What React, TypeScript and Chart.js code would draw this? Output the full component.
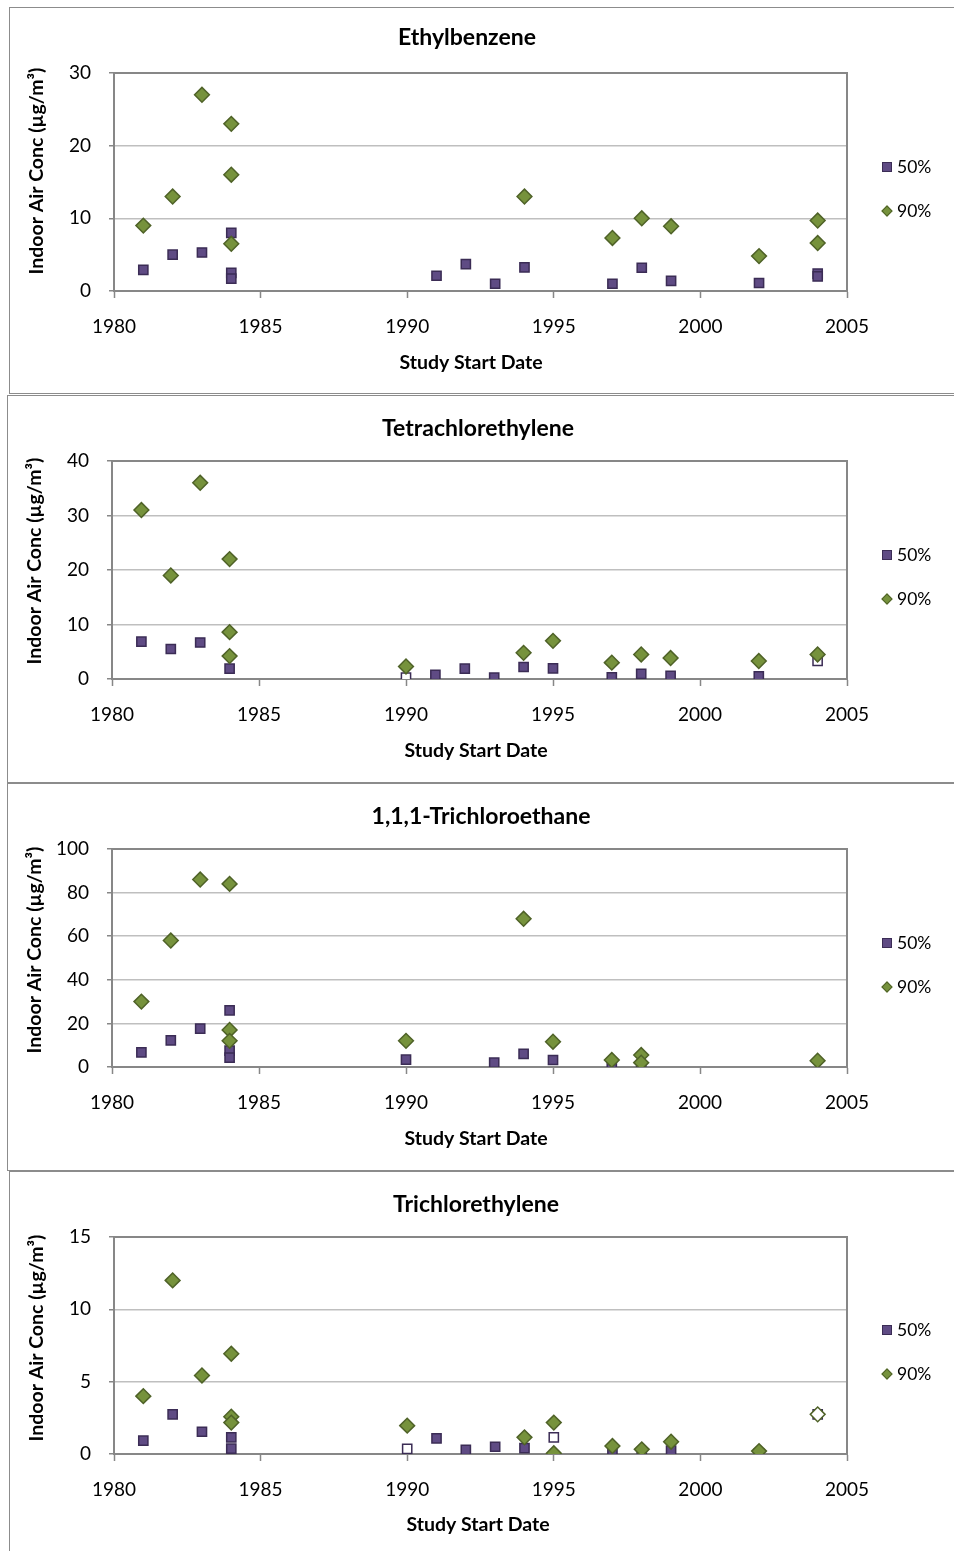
import React, { useEffect, useRef } from "react";
import { Chart, registerables } from "chart.js";

Chart.register(...registerables);

const FONT = "Lato, 'Open Sans', sans-serif";

// ---------- Data ----------
const xTickLabels = [1980, 1985, 1990, 1995, 2000, 2005];
const seriesNames = ["50%", "90%"];
const xAxisTitle = "Study Start Date";
const yAxisTitle = "Indoor Air Conc (µg/m³)";

// Ethylbenzene
const ethylYears50 = [1981, 1982, 1983, 1984, 1984, 1984, 1991, 1992, 1993, 1994, 1997, 1998, 1999, 2002, 2004, 2004];
const ethylValues50 = [2.9, 5.0, 5.3, 8.0, 2.5, 1.7, 2.1, 3.7, 1.0, 3.25, 1.0, 3.2, 1.4, 1.1, 2.4, 2.0];
const ethylYears90 = [1981, 1982, 1983, 1984, 1984, 1984, 1994, 1997, 1998, 1999, 2002, 2004, 2004];
const ethylValues90 = [9.0, 13.0, 27.0, 23.0, 16.0, 6.5, 13.0, 7.3, 10.0, 8.9, 4.8, 9.7, 6.6];
const ethylHollow50: number[] = [];
const ethylHollow90: number[] = [];

// Tetrachlorethylene
const tetraYears50 = [1981, 1982, 1983, 1984, 1990, 1991, 1992, 1993, 1994, 1995, 1997, 1998, 1999, 2002, 2004];
const tetraValues50 = [6.85, 5.5, 6.7, 1.9, 0.25, 0.75, 1.9, 0.25, 2.2, 1.95, 0.3, 0.95, 0.6, 0.5, 3.3];
const tetraYears90 = [1981, 1982, 1983, 1984, 1984, 1984, 1990, 1994, 1995, 1997, 1998, 1999, 2002, 2004];
const tetraValues90 = [31.0, 19.0, 36.0, 22.0, 8.6, 4.2, 2.3, 4.8, 7.0, 3.0, 4.5, 3.85, 3.3, 4.5];
const tetraHollow50 = [4, 14];
const tetraHollow90: number[] = [];

// 1,1,1-Trichloroethane
const tcaYears50 = [1981, 1982, 1983, 1984, 1984, 1984, 1990, 1993, 1994, 1995, 1997, 1998];
const tcaValues50 = [6.7, 12.2, 17.6, 26.0, 7.5, 4.3, 3.35, 2.0, 6.0, 3.2, 0.2, 0.2];
const tcaYears90 = [1981, 1982, 1983, 1984, 1984, 1984, 1990, 1994, 1995, 1997, 1998, 1998, 2004];
const tcaValues90 = [30.0, 58.0, 86.0, 84.0, 17.0, 12.0, 12.0, 68.0, 11.6, 3.2, 5.5, 2.0, 2.9];
const tcaHollow50: number[] = [];
const tcaHollow90: number[] = [];

// Trichlorethylene
const tceYears50 = [1981, 1982, 1983, 1984, 1984, 1990, 1991, 1992, 1993, 1994, 1995, 1997, 1998, 1999, 2002, 2004];
const tceValues50 = [0.92, 2.74, 1.54, 1.15, 0.37, 0.35, 1.08, 0.28, 0.5, 0.41, 1.15, 0.28, 0.1, 0.23, 0.05, 2.74];
const tceYears90 = [1981, 1982, 1983, 1984, 1984, 1984, 1990, 1994, 1995, 1995, 1997, 1998, 1999, 2002, 2004];
const tceValues90 = [4.0, 12.0, 5.43, 6.93, 2.58, 2.17, 1.96, 1.15, 2.17, 0.05, 0.55, 0.32, 0.85, 0.2, 2.74];
const tceHollow50 = [5, 10, 15];
const tceHollow90 = [14];

// ---------- Styles ----------
const PURPLE = "#5f4b84";
const PURPLE_DARK = "#3b2c55";
const GREEN = "#76923c";
const GREEN_DARK = "#4f6228";
const AXIS = "#878787";
const GRID = "#bfbfbf";
const PANEL_BORDER = "#8c8c8c";

const TITLE_SIZE = 23;
const AXIS_TITLE_SIZE = 19.5;
const TICK_SIZE = 19;
const LEGEND_SIZE = 17.5;

type PanelSpec = {
  title: string;
  top: number;
  height: number;
  borderLeft: number;
  borderHeight: number;
  plotLeft: number;
  plotRight: number;
  plotTop: number;
  plotBottom: number;
  yMax: number;
  yStep: number;
  x50: number[];
  y50: number[];
  h50: number[];
  x90: number[];
  y90: number[];
  h90: number[];
  titlePos: [number, number];
  xTitlePos: [number, number];
  yTitlePos: [number, number];
  legendY: number;
};

const panels: PanelSpec[] = [
  {
    title: "Ethylbenzene", top: 7, height: 386, borderLeft: 9, borderHeight: 387,
    plotLeft: 114, plotRight: 847, plotTop: 73, plotBottom: 291, yMax: 30, yStep: 10,
    x50: ethylYears50, y50: ethylValues50, h50: ethylHollow50,
    x90: ethylYears90, y90: ethylValues90, h90: ethylHollow90,
    titlePos: [467, 38], xTitlePos: [471, 363], yTitlePos: [37, 171], legendY: 167,
  },
  {
    title: "Tetrachlorethylene", top: 395, height: 387, borderLeft: 7, borderHeight: 388,
    plotLeft: 112, plotRight: 847, plotTop: 461, plotBottom: 679, yMax: 40, yStep: 10,
    x50: tetraYears50, y50: tetraValues50, h50: tetraHollow50,
    x90: tetraYears90, y90: tetraValues90, h90: tetraHollow90,
    titlePos: [478, 429], xTitlePos: [476, 751], yTitlePos: [35, 561], legendY: 555,
  },
  {
    title: "1,1,1-Trichloroethane", top: 783, height: 387, borderLeft: 7, borderHeight: 388,
    plotLeft: 112, plotRight: 847, plotTop: 849, plotBottom: 1067, yMax: 100, yStep: 20,
    x50: tcaYears50, y50: tcaValues50, h50: tcaHollow50,
    x90: tcaYears90, y90: tcaValues90, h90: tcaHollow90,
    titlePos: [481, 817], xTitlePos: [476, 1139], yTitlePos: [35, 950], legendY: 943,
  },
  {
    title: "Trichlorethylene", top: 1171, height: 380, borderLeft: 9, borderHeight: 400,
    plotLeft: 114, plotRight: 847, plotTop: 1237, plotBottom: 1454, yMax: 15, yStep: 5,
    x50: tceYears50, y50: tceValues50, h50: tceHollow50,
    x90: tceYears90, y90: tceValues90, h90: tceHollow90,
    titlePos: [476, 1205], xTitlePos: [478, 1525], yTitlePos: [37, 1338], legendY: 1330,
  },
];

const Y_SCALE_W = 60;
const X_SCALE_H = 60;

function PanelChart({ p }: { p: PanelSpec }) {
  const ref = useRef<HTMLCanvasElement>(null);

  useEffect(() => {
    const canvas = ref.current;
    if (!canvas) return;

    const textPlugin = {
      id: "panelText",
      afterDraw(chart: any) {
        const ctx = chart.ctx as CanvasRenderingContext2D;
        ctx.save();
        ctx.fillStyle = "#000";
        ctx.textAlign = "center";
        ctx.textBaseline = "middle";
        ctx.font = `bold ${TITLE_SIZE}px ${FONT}`;
        ctx.fillText(p.title, p.titlePos[0], p.titlePos[1] - p.top);
        ctx.font = `bold ${AXIS_TITLE_SIZE}px ${FONT}`;
        ctx.fillText(xAxisTitle, p.xTitlePos[0], p.xTitlePos[1] - p.top);
        ctx.translate(p.yTitlePos[0], p.yTitlePos[1] - p.top);
        ctx.rotate(-Math.PI / 2);
        ctx.fillText(yAxisTitle, 0, 0);
        ctx.restore();
      },
    };

    const framePlugin = {
      id: "plotFrame",
      beforeDatasetsDraw(chart: any) {
        const { ctx, chartArea: a } = chart;
        ctx.save();
        ctx.strokeStyle = AXIS;
        ctx.lineWidth = 2;
        ctx.strokeRect(a.left, a.top, a.right - a.left, a.bottom - a.top);
        ctx.restore();
      },
    };

    const chart = new Chart(canvas, {
      type: "scatter",
      data: {
        datasets: [
          {
            label: seriesNames[0],
            data: p.x50.map((x, i) => ({ x, y: p.y50[i] })),
            pointStyle: "rect",
            pointRadius: 6.5,
            pointHoverRadius: 6.5,
            pointBackgroundColor: p.x50.map((_, i) => (p.h50.includes(i) ? "#ffffff" : PURPLE)),
            pointBorderColor: PURPLE_DARK,
            pointBorderWidth: 1.5,
            order: 1,
          },
          {
            label: seriesNames[1],
            data: p.x90.map((x, i) => ({ x, y: p.y90[i] })),
            pointStyle: "rectRot",
            pointRadius: 7.4,
            pointHoverRadius: 7.4,
            pointBackgroundColor: p.x90.map((_, i) => (p.h90.includes(i) ? "#ffffff" : GREEN)),
            pointBorderColor: GREEN_DARK,
            pointBorderWidth: 1.5,
            order: 0,
          },
        ],
      },
      options: {
        responsive: false,
        animation: false,
        devicePixelRatio: 1,
        events: [],
        layout: {
          padding: {
            left: p.plotLeft - Y_SCALE_W,
            right: 954 - p.plotRight,
            top: p.plotTop - p.top,
            bottom: p.top + p.height - p.plotBottom - X_SCALE_H,
          },
        },
        plugins: {
          legend: { display: false },
          title: { display: false },
          tooltip: { enabled: false },
        },
        scales: {
          x: {
            type: "linear",
            min: xTickLabels[0],
            max: xTickLabels[xTickLabels.length - 1],
            afterFit: (s: any) => {
              s.height = X_SCALE_H;
            },
            afterBuildTicks: (s: any) => {
              s.ticks = xTickLabels.map((v) => ({ value: v }));
            },
            ticks: {
              callback: (v: any) => String(v),
              font: { family: FONT, size: TICK_SIZE },
              color: "#000",
              padding: 17,
              maxRotation: 0,
              autoSkip: false,
            },
            grid: {
              drawOnChartArea: false,
              drawTicks: true,
              tickLength: 7,
              tickColor: AXIS,
              tickWidth: 1.5,
            },
            border: { color: AXIS, width: 2 },
          },
          y: {
            type: "linear",
            min: 0,
            max: p.yMax,
            afterFit: (s: any) => {
              s.width = Y_SCALE_W;
            },
            ticks: {
              stepSize: p.yStep,
              callback: (v: any) => String(v),
              font: { family: FONT, size: TICK_SIZE },
              color: "#000",
              padding: 18,
            },
            grid: {
              color: GRID,
              lineWidth: 1.5,
              drawTicks: true,
              tickLength: 5,
              tickColor: AXIS,
            },
            border: { color: AXIS, width: 2 },
          },
        },
      },
      plugins: [framePlugin, textPlugin],
    } as any);

    return () => chart.destroy();
  }, [p]);

  return (
    <>
      <div
        style={{
          position: "absolute",
          left: p.borderLeft,
          top: p.top,
          width: 954 - p.borderLeft + 10,
          height: p.borderHeight,
          border: `1px solid ${PANEL_BORDER}`,
          boxSizing: "border-box",
        }}
      />
      <canvas
        ref={ref}
        width={954}
        height={p.height}
        style={{ position: "absolute", left: 0, top: p.top, width: 954, height: p.height }}
      />
      <div
        style={{
          position: "absolute",
          left: 882,
          top: p.legendY - 5,
          width: 10,
          height: 10,
          background: PURPLE,
          border: `1px solid ${PURPLE_DARK}`,
          boxSizing: "border-box",
        }}
      />
      <div
        style={{
          position: "absolute",
          left: 897,
          top: p.legendY - 11,
          height: 22,
          lineHeight: "22px",
          font: `${LEGEND_SIZE}px ${FONT}`,
          color: "#000",
        }}
      >
        {seriesNames[0]}
      </div>
      <div
        style={{
          position: "absolute",
          left: 883,
          top: p.legendY + 44 - 4,
          width: 8,
          height: 8,
          background: GREEN,
          border: `1px solid ${GREEN_DARK}`,
          boxSizing: "border-box",
          transform: "rotate(45deg)",
        }}
      />
      <div
        style={{
          position: "absolute",
          left: 897,
          top: p.legendY + 44 - 11,
          height: 22,
          lineHeight: "22px",
          font: `${LEGEND_SIZE}px ${FONT}`,
          color: "#000",
        }}
      >
        {seriesNames[1]}
      </div>
    </>
  );
}

export default function App() {
  return (
    <div
      style={{
        position: "absolute",
        left: 0,
        top: 0,
        width: 954,
        height: 1551,
        overflow: "hidden",
        background: "#fff",
      }}
    >
      {panels.map((p) => (
        <PanelChart key={p.title} p={p} />
      ))}
    </div>
  );
}
